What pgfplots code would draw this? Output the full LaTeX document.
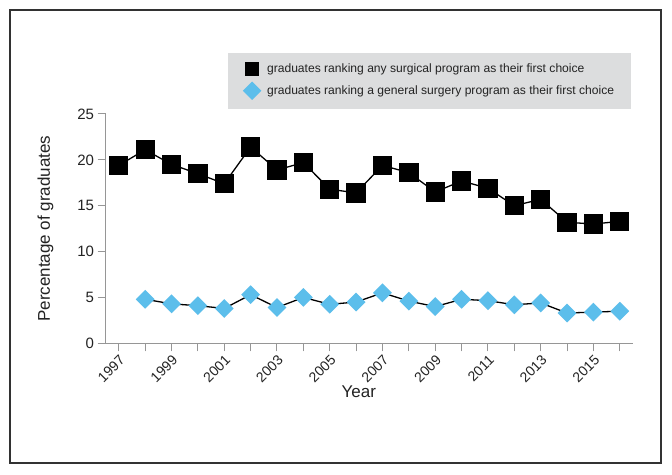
\documentclass[border=0pt]{standalone}
\usepackage{pgfplots}
\pgfplotsset{compat=1.18}
\usepackage{fontspec}
\setmainfont{Liberation Sans}
\definecolor{lblue}{RGB}{92,190,235}
\definecolor{leggray}{RGB}{220,221,222}
\definecolor{axgray}{RGB}{150,150,150}
\definecolor{framegray}{RGB}{50,50,50}
\definecolor{txt}{RGB}{35,35,35}
\begin{document}
\begin{tikzpicture}[x=1pt,y=1pt]
\useasboundingbox (0,0) rectangle (672,474);
\fill[white] (0,0) rectangle (672,474);
\draw[framegray, line width=1.5pt] (10,11) rectangle (661,464);
\begin{axis}[
  at={(105.6pt,130.7pt)}, anchor=south west,
  scale only axis, width=527.4pt, height=229.3pt,
  xmin=1996.5, xmax=2016.5, ymin=0, ymax=25,
  axis x line*=bottom, axis y line*=left,
  axis line style={axgray, line width=1.2pt, -},
  xtick={1997,...,2016},
  xticklabels={1997,,1999,,2001,,2003,,2005,,2007,,2009,,2011,,2013,,2015,},
  ytick={0,5,...,25},
  tick align=outside, major tick length=8pt,
  tick style={axgray, line width=1pt},
  x tick label style={rotate=45, anchor=north east, font=\fontsize{14}{15}\selectfont, text=txt, inner sep=2pt},
  y tick label style={font=\fontsize{15}{16}\selectfont, text=txt},
  /pgf/number format/assume math mode=true,
  xlabel={Year},
  xlabel style={at={(axis description cs:0.48,-0.212)}, anchor=center, font=\fontsize{17}{19}\selectfont, text=txt},
  ylabel={Percentage of graduates},
  ylabel style={at={(axis description cs:-0.114,0.5)}, anchor=center, font=\fontsize{17}{19}\selectfont, text=txt},
  clip=false,
  legend cell align=left,
  legend style={at={(0.232,1.269)}, anchor=north west, fill=leggray, draw=none,
    font=\fontsize{12.1}{14}\selectfont, text=txt, inner xsep=15pt, inner ysep=9pt, row sep=6pt,
    /tikz/every odd column/.append style={column sep=4pt}},
]
\addplot[black, line width=1.3pt, mark=square*, mark size=9pt, mark options={solid, fill=black, draw=black},
  legend image code/.code={\fill[black] (0pt,-6.5pt) rectangle (13pt,6.5pt);}]
coordinates {
(1997,19.4) (1998,21.1) (1999,19.5) (2000,18.5) (2001,17.4) (2002,21.4) (2003,18.9)
(2004,19.7) (2005,16.8) (2006,16.4) (2007,19.4) (2008,18.6) (2009,16.5) (2010,17.7)
(2011,16.9) (2012,15.0) (2013,15.7) (2014,13.2) (2015,13.0) (2016,13.3)};
\addlegendentry{graduates ranking any surgical program as their first choice}
\addplot[black, line width=1.3pt, mark=square*, mark size=6pt, mark options={solid, rotate=45, fill=lblue, draw=lblue},
  legend image code/.code={\fill[lblue] (6.5pt,-8.3pt) -- (14.8pt,0pt) -- (6.5pt,8.3pt) -- (-1.8pt,0pt) -- cycle;}]
coordinates {
(1998,4.8) (1999,4.3) (2000,4.1) (2001,3.8) (2002,5.3) (2003,3.9) (2004,5.0)
(2005,4.25) (2006,4.5) (2007,5.5) (2008,4.6) (2009,4.0) (2010,4.8) (2011,4.65)
(2012,4.2) (2013,4.4) (2014,3.3) (2015,3.4) (2016,3.5)};
\addlegendentry{graduates ranking a general surgery program as their first choice}
\end{axis}
\end{tikzpicture}
\end{document}
